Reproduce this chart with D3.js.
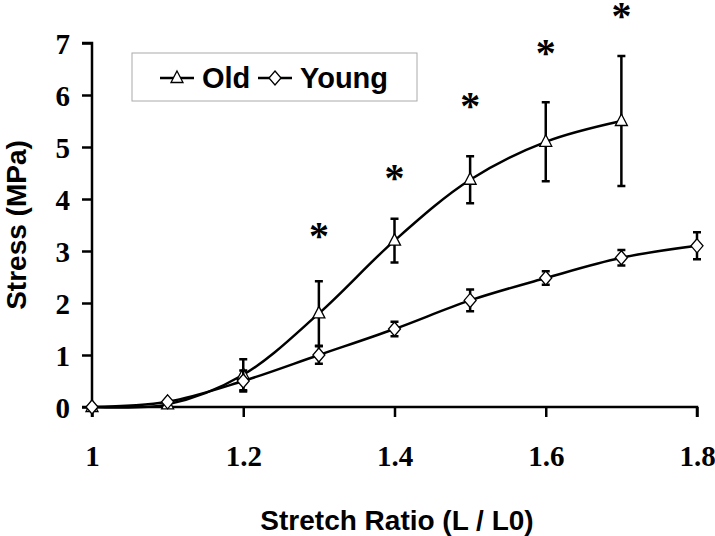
<!DOCTYPE html>
<html><head><meta charset="utf-8">
<script src="https://cdn.jsdelivr.net/npm/d3@7"></script>
<style>body{margin:0;background:#fff}</style>
</head><body>
<svg id="c" width="715" height="536"></svg>
<script>
const stretch = [1.0, 1.1, 1.2, 1.3, 1.4, 1.5, 1.6, 1.7, 1.8];
const oldStretch = [1.0, 1.1, 1.2, 1.3, 1.4, 1.5, 1.6, 1.7];
const oldMean = [0, 0.05, 0.62, 1.8, 3.2, 4.37, 5.1, 5.5];
const oldErr  = [0, 0, 0.3, 0.62, 0.42, 0.45, 0.76, 1.25];
const youngMean = [0, 0.1, 0.5, 1.0, 1.5, 2.05, 2.48, 2.87, 3.1];
const youngErr  = [0, 0, 0.2, 0.17, 0.14, 0.21, 0.13, 0.15, 0.26];
const sigStretch = [1.3, 1.4, 1.5, 1.6, 1.7];
const sigY = [3.4, 4.52, 5.9, 6.92, 7.64];
const xTicks = [1, 1.2, 1.4, 1.6, 1.8];
const yTicks = [0, 1, 2, 3, 4, 5, 6, 7];

const svg = d3.select("#c");
const x = d3.scaleLinear().domain([1, 1.8]).range([92, 697]);
const y = d3.scaleLinear().domain([0, 7]).range([407, 43]);

const serif = "'Liberation Serif','Times New Roman',serif";
const sans = "'Liberation Sans',Arial,sans-serif";

// axes
const ya = svg.append("g").attr("transform", "translate(92,0)")
  .call(d3.axisLeft(y).tickValues(yTicks).tickSize(10).tickPadding(12).tickFormat(d3.format("d")));
const xa = svg.append("g").attr("transform", "translate(0,407)")
  .call(d3.axisBottom(x).tickValues(xTicks).tickSize(10).tickPadding(28).tickFormat(d => d === 1 ? "1" : d3.format(".1f")(d)));
[ya, xa].forEach(g => {
  g.select(".domain").attr("stroke", "#000").attr("stroke-width", 2.5);
  g.selectAll(".tick line").attr("stroke", "#000").attr("stroke-width", 2.5);
  g.selectAll(".tick text").attr("fill", "#000").style("font-family", serif)
    .style("font-size", "29px").style("font-weight", "bold");
});
ya.select(".domain").attr("d", `M-10,${y(7)}H0V${y(0)}H-10`);
xa.select(".domain").attr("d", `M${x(1)},10V0H${x(1.8)}V10`);
ya.selectAll(".tick text").attr("dy", "0.35em");

const line = d3.line().curve(d3.curveCatmullRom.alpha(0.5));

function drawSeries(xs, ms, es, marker) {
  const pts = xs.map((v, i) => [x(v), y(ms[i])]);
  svg.append("path").attr("d", line(pts)).attr("fill", "none")
    .attr("stroke", "#000").attr("stroke-width", 2.5);
  const g = svg.append("g");
  xs.forEach((v, i) => {
    if (es[i] > 0) {
      const cx = x(v), t = y(ms[i] + es[i]), b = y(ms[i] - es[i]);
      g.append("path").attr("d", `M${cx},${t}V${b}M${cx-4},${t}H${cx+4}M${cx-4},${b}H${cx+4}`)
        .attr("stroke", "#000").attr("stroke-width", 2.5).attr("fill", "none");
    }
  });
  xs.forEach((v, i) => {
    g.append("path").attr("d", marker).attr("transform", `translate(${x(v)},${y(ms[i])})`)
      .attr("fill", "#fff").attr("stroke", "#000").attr("stroke-width", 1.3);
  });
}
const tri = "M0,-7L6,4.5L-6,4.5Z";
const dia = "M0,-7L6,0L0,7L-6,0Z";
drawSeries(oldStretch, oldMean, oldErr, tri);
drawSeries(stretch, youngMean, youngErr, dia);

// significance asterisks
const astFs = 40;
sigStretch.forEach((v, i) => {
  svg.append("text").attr("x", x(v)).attr("y", y(sigY[i]) + 0.47 * astFs).attr("text-anchor", "middle")
    .style("font-family", serif).style("font-weight", "bold")
    .style("font-size", astFs + "px").text("*");
});

// legend
svg.append("rect").attr("x", 132).attr("y", 53).attr("width", 285).attr("height", 48)
  .attr("fill", "#fff").attr("stroke", "#aaa").attr("stroke-width", 1);
const leg = [["Old", tri, 160], ["Young", dia, 258]];
leg.forEach(([name, m, lx]) => {
  svg.append("path").attr("d", `M${lx},78H${lx+34}`).attr("stroke", "#000").attr("stroke-width", 2.5);
  svg.append("path").attr("d", m).attr("transform", `translate(${lx+17},78)`)
    .attr("fill", "#fff").attr("stroke", "#000").attr("stroke-width", 1.3);
  svg.append("text").attr("x", lx + 42).attr("y", 78).attr("dy", "0.35em")
    .style("font-family", sans).style("font-weight", "bold").style("font-size", "29px").text(name);
});

// axis titles
svg.append("text").attr("x", 397).attr("y", 520).attr("dy", "0.35em").attr("text-anchor", "middle")
  .style("font-family", sans).style("font-weight", "bold").style("font-size", "28px").text("Stretch Ratio (L / L0)");
svg.append("text").attr("transform", "translate(16,225) rotate(-90)").attr("dy", "0.35em").attr("text-anchor", "middle")
  .style("font-family", sans).style("font-weight", "bold").style("font-size", "28px").text("Stress (MPa)");
</script>
</body></html>
